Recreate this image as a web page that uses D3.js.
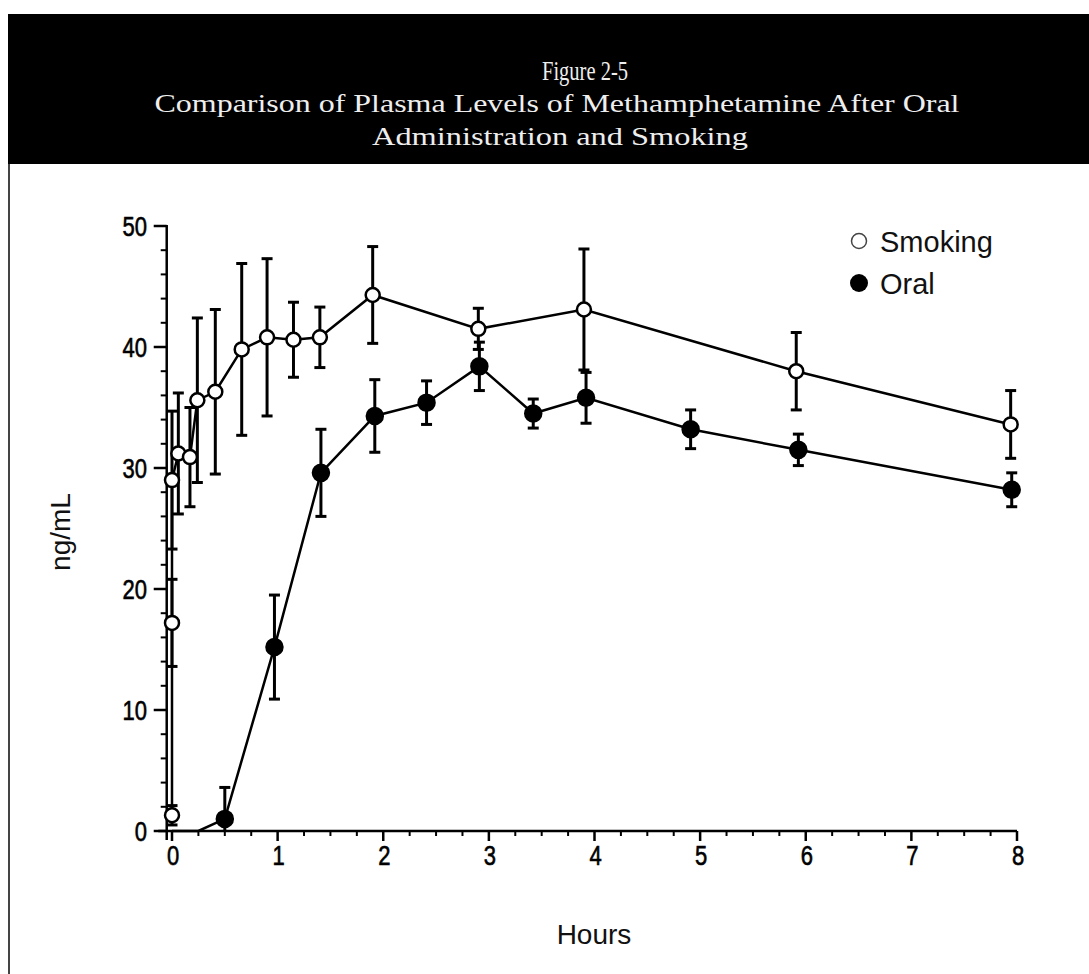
<!DOCTYPE html>
<html><head><meta charset="utf-8">
<script src="https://cdn.jsdelivr.net/npm/d3@7"></script>
<style>body{margin:0;background:#fff}svg{display:block}</style>
</head><body>
<svg id="c" width="1089" height="974"></svg>
<script>
// ---- data ----
const titleLines = ["Figure 2-5", "Comparison of Plasma Levels of Methamphetamine After Oral", "Administration and Smoking"];
const smokingHours = [0, 0, 0, 0.06, 0.17, 0.24, 0.41, 0.66, 0.90, 1.15, 1.40, 1.90, 2.90, 3.90, 5.91, 7.94];
const smokingValues = [1.3, 17.2, 29.0, 31.2, 30.9, 35.6, 36.3, 39.8, 40.8, 40.6, 40.8, 44.3, 41.5, 43.1, 38.0, 33.6];
const smokingErrors = [0.8, 3.6, 5.7, 5.0, 4.1, 6.8, 6.8, 7.1, 6.5, 3.1, 2.5, 4.0, 1.7, 5.0, 3.2, 2.8];
const oralHours = [0, 0.25, 0.50, 0.97, 1.41, 1.92, 2.41, 2.91, 3.42, 3.92, 4.91, 5.93, 7.95];
const oralValues = [0, 0, 1.0, 15.2, 29.6, 34.3, 35.4, 38.4, 34.5, 35.8, 33.2, 31.5, 28.2];
const oralErrors = [0, 0, 2.6, 4.3, 3.6, 3.0, 1.8, 2.0, 1.2, 2.1, 1.6, 1.3, 1.4];
const xTicks = [0, 1, 2, 3, 4, 5, 6, 7, 8];
const yTicks = [0, 10, 20, 30, 40, 50];
const legendLabels = ["Smoking", "Oral"];
const xLabel = "Hours";
const yLabel = "ng/mL";

const svg = d3.select("#c");
const W = 1089, H = 974;

// title band
svg.append("rect").attr("x", 8).attr("y", 14).attr("width", W - 8).attr("height", 150).attr("fill", "#000");
const titleX = [585, 557, 560], titleY = [80, 112, 145], titleW = [86, 805, 376], titleS = [27, 26, 26];
titleLines.forEach((t, i) => {
  svg.append("text").attr("x", titleX[i]).attr("y", titleY[i])
    .attr("text-anchor", "middle").attr("fill", "#eeeeee")
    .attr("font-family", "'Liberation Serif', 'DejaVu Serif', serif").attr("font-size", titleS[i])
    .attr("textLength", titleW[i]).attr("lengthAdjust", "spacingAndGlyphs").text(t);
});
// frame left border
svg.append("line").attr("x1", 9).attr("x2", 9).attr("y1", 164).attr("y2", H).attr("stroke", "#444").attr("stroke-width", 2);

// scales
const x = d3.scaleLinear().domain([0, 8]).range([172, 1017]);
const y = d3.scaleLinear().domain([0, 50]).range([831, 226]);
const yAxisX = x(-0.05);
const font = "'Liberation Sans', Arial, sans-serif";

// x axis
const gx = svg.append("g");
gx.append("line").attr("x1", x(-0.13)).attr("x2", x(8)).attr("y1", y(0)).attr("y2", y(0)).attr("stroke", "#000").attr("stroke-width", 2.5);
const xMinor = d3.range(0, 8.001, 0.25).filter(v => Math.abs(v - Math.round(v)) > 0.01);
gx.selectAll(".xm").data(xMinor).join("line").attr("x1", d => x(d)).attr("x2", d => x(d))
  .attr("y1", y(0)).attr("y2", y(0) + 5).attr("stroke", "#000").attr("stroke-width", 2);
gx.selectAll(".xM").data(xTicks).join("line").attr("x1", d => x(d)).attr("x2", d => x(d))
  .attr("y1", y(0)).attr("y2", y(0) + 10).attr("stroke", "#000").attr("stroke-width", 2.5);
gx.selectAll("text").data(xTicks).join("text")
  .attr("transform", d => `translate(${x(d) + 1},865) scale(1,1.25)`)
  .attr("text-anchor", "middle").attr("font-family", font).attr("font-size", 22).attr("fill", "#000")
  .attr("stroke", "#000").attr("stroke-width", 0.5).text(d => d);

// y axis
const gy = svg.append("g");
gy.append("line").attr("x1", yAxisX).attr("x2", yAxisX).attr("y1", y(50) - 1).attr("y2", y(0) + 9).attr("stroke", "#000").attr("stroke-width", 2.5);
const yMinor = d3.range(0, 50.001, 2).filter(v => v % 10 !== 0);
gy.selectAll(".ym").data(yMinor).join("line").attr("x1", yAxisX - 6).attr("x2", yAxisX)
  .attr("y1", d => y(d)).attr("y2", d => y(d)).attr("stroke", "#000").attr("stroke-width", 2);
gy.selectAll(".yM").data(yTicks).join("line").attr("x1", yAxisX - 13).attr("x2", yAxisX)
  .attr("y1", d => y(d)).attr("y2", d => y(d)).attr("stroke", "#000").attr("stroke-width", 2.5);
gy.selectAll("text").data(yTicks).join("text")
  .attr("transform", d => `translate(147,${y(d) + 10}) scale(1,1.25)`)
  .attr("text-anchor", "end").attr("font-family", font).attr("font-size", 22).attr("fill", "#000")
  .attr("stroke", "#000").attr("stroke-width", 0.5).text(d => d);

// axis titles
svg.append("text").attr("x", 594).attr("y", 944).attr("text-anchor", "middle")
  .attr("font-family", font).attr("font-size", 28).attr("fill", "#111").text(xLabel);
svg.append("text").attr("transform", "translate(70,532) rotate(-90)").attr("text-anchor", "middle")
  .attr("font-family", font).attr("font-size", 28).attr("fill", "#111").text(yLabel);

// series
function drawSeries(hours, vals, errs, filled) {
  const pts = hours.map((h, i) => ({h, v: vals[i], e: errs[i]}));
  const g = svg.append("g");
  g.append("path").datum(pts).attr("fill", "none").attr("stroke", "#000").attr("stroke-width", 2.5)
    .attr("d", d3.line().x(d => x(d.h)).y(d => y(d.v)));
  const eb = pts.filter(d => d.e > 0);
  g.selectAll(".eb").data(eb).join("line").attr("x1", d => x(d.h)).attr("x2", d => x(d.h))
    .attr("y1", d => y(d.v + d.e)).attr("y2", d => y(Math.max(0, d.v - d.e)))
    .attr("stroke", "#000").attr("stroke-width", 3);
  g.selectAll(".capT").data(eb).join("line").attr("x1", d => x(d.h) - 5.5).attr("x2", d => x(d.h) + 5.5)
    .attr("y1", d => y(d.v + d.e)).attr("y2", d => y(d.v + d.e)).attr("stroke", "#000").attr("stroke-width", 3);
  g.selectAll(".capB").data(eb.filter(d => d.v - d.e > 0)).join("line").attr("x1", d => x(d.h) - 5.5).attr("x2", d => x(d.h) + 5.5)
    .attr("y1", d => y(d.v - d.e)).attr("y2", d => y(d.v - d.e)).attr("stroke", "#000").attr("stroke-width", 3);
  g.selectAll("circle").data(pts.filter(d => d.v > 0)).join("circle")
    .attr("cx", d => x(d.h)).attr("cy", d => y(d.v)).attr("r", filled ? 8 : 7)
    .attr("fill", filled ? "#000" : "#fff").attr("stroke", "#000").attr("stroke-width", 2.5);
}
drawSeries(oralHours, oralValues, oralErrors, true);
drawSeries(smokingHours, smokingValues, smokingErrors, false);

// legend
const lg = svg.append("g");
lg.append("circle").attr("cx", 859).attr("cy", 241).attr("r", 7.5).attr("fill", "#fff").attr("stroke", "#444").attr("stroke-width", 1.5);
lg.append("circle").attr("cx", 859).attr("cy", 283).attr("r", 9).attr("fill", "#000");
lg.selectAll("text").data(legendLabels).join("text").attr("x", 880).attr("y", (d, i) => 252 + i * 42)
  .attr("font-family", font).attr("font-size", 29).attr("fill", "#111").text(d => d);
</script>
</body></html>
